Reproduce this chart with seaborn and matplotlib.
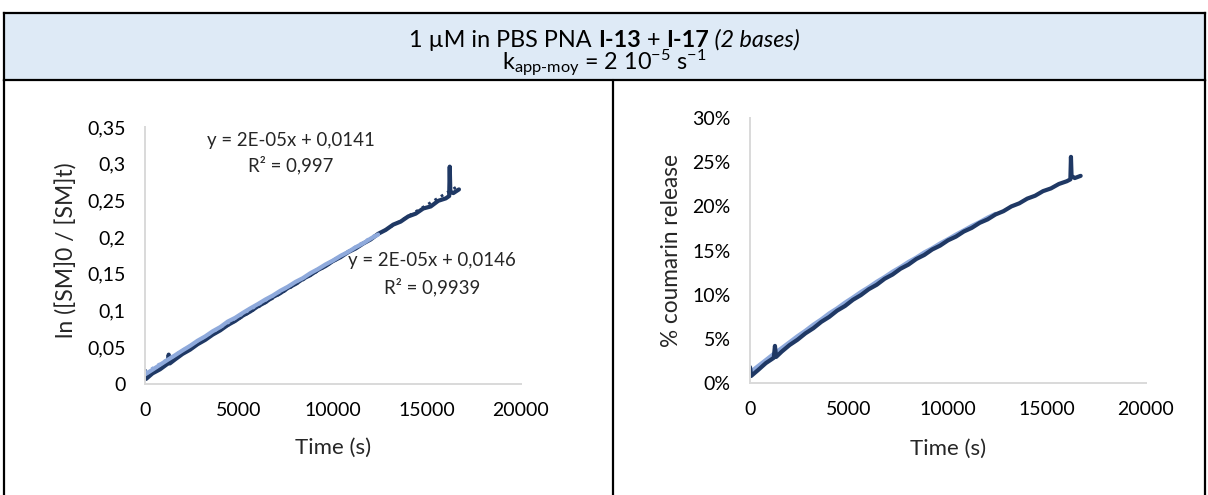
import matplotlib
matplotlib.use("Agg")
import matplotlib.pyplot as plt
import seaborn as sns
import numpy as np
from matplotlib.lines import Line2D
from matplotlib.ticker import FuncFormatter, PercentFormatter
from matplotlib.offsetbox import TextArea, HPacker, AnnotationBbox

# -----------------------------
# data
# -----------------------------
time_dark = [0, 60, 400, 800, 1200, 1260, 1320, 1600, 2000, 2400, 2800, 3200, 3600,
             4000, 4400, 4800, 5200, 5600, 6000, 6400, 6800, 7200, 7600, 8000, 8400,
             8800, 9200, 9600, 10000, 10400, 10800, 11200, 11600, 12000, 12400, 12800,
             13200, 13600, 14000, 14400, 14800, 15200, 15600, 16000, 16180, 16210,
             16240, 16400, 16700]
ln_dark = [0.018, 0.007, 0.0145, 0.0200, 0.0275, 0.0400, 0.0280, 0.0335, 0.0410, 0.0468,
           0.0542, 0.0600, 0.0672, 0.0730, 0.0803, 0.0860, 0.0931, 0.0988, 0.1058, 0.1113,
           0.1184, 0.1238, 0.1308, 0.1362, 0.1432, 0.1485, 0.1553, 0.1606, 0.1675, 0.1727,
           0.1795, 0.1845, 0.1912, 0.1968, 0.2045, 0.2098, 0.2170, 0.2212, 0.2282, 0.2320,
           0.2390, 0.2418, 0.2495, 0.2528, 0.2560, 0.2960, 0.2620, 0.2600, 0.2650]
pct_dark = [1.8, 0.8, 1.45, 2.25, 2.85, 4.2, 2.95, 3.55, 4.3, 4.90, 5.62, 6.20, 6.92,
            7.48, 8.19, 8.72, 9.42, 9.95, 10.62, 11.12, 11.80, 12.28, 12.93, 13.40, 14.04,
            14.49, 15.11, 15.55, 16.15, 16.57, 17.15, 17.56, 18.13, 18.52, 19.08, 19.45,
            19.99, 20.34, 20.87, 21.20, 21.72, 22.03, 22.53, 22.84, 23.05, 25.6,
            23.45, 23.20, 23.45]

time_light = [0, 400, 800, 1200, 1600, 2000, 2400, 2800, 3200, 3600, 4000, 4400, 4800,
              5200, 5600, 6000, 6400, 6800, 7200, 7600, 8000, 8400, 8800, 9200, 9600,
              10000, 10400, 10800, 11200, 11600, 12000, 12400]
ln_light = [0.013, 0.0195, 0.0262, 0.0328, 0.0392, 0.0458, 0.0520, 0.0590, 0.0648, 0.0718,
            0.0775, 0.0850, 0.0902, 0.0968, 0.1030, 0.1088, 0.1150, 0.1205, 0.1270, 0.1325,
            0.1390, 0.1442, 0.1510, 0.1565, 0.1628, 0.1682, 0.1745, 0.1798, 0.1862, 0.1915,
            0.1980, 0.2035]
pct_light = [1.2, 1.9, 2.6, 3.3, 3.95, 4.62, 5.3, 5.92, 6.6, 7.2, 7.88, 8.45, 9.1, 9.68,
             10.3, 10.85, 11.46, 12.0, 12.6, 13.12, 13.7, 14.2, 14.78, 15.25, 15.8, 16.28,
             16.8, 17.28, 17.78, 18.22, 18.72, 19.15]

fit_labels = [("y = 2E-05x + 0,0141", "R² = 0,997"),
              ("y = 2E-05x + 0,0146", "R² = 0,9939")]

DARK = "#1F3864"
LIGHT = "#8FAADC"
AXIS_GREY = "#D9D9D9"
HEADER_BG = "#DEEAF6"

sns.set_theme(style="white")
plt.rcParams['font.family'] = ['Lato', 'DejaVu Sans']
plt.rcParams['mathtext.fontset'] = 'custom'
plt.rcParams['mathtext.rm'] = 'Lato'
plt.rcParams['mathtext.it'] = 'Lato:italic'
plt.rcParams['mathtext.bf'] = 'Lato:bold'

W, H = 1208, 495
fig = plt.figure(figsize=(W / 100, H / 100), dpi=100, facecolor="white")


def fx(px):
    return px / W


def fy(py):
    return 1 - py / H


# -----------------------------
# header band (table cell)
# -----------------------------
hax = fig.add_axes([fx(4), fy(80), fx(1205) - fx(4), fy(13) - fy(80)])
hax.set_facecolor(HEADER_BG)
hax.set_xticks([])
hax.set_yticks([])
for s in hax.spines.values():
    s.set_color("black")
    s.set_linewidth(1.6)

tsize = 16.8
parts = [TextArea("1 µM in PBS PNA ", textprops=dict(size=tsize, color="black")),
         TextArea("I-13", textprops=dict(size=tsize, weight="bold", color="black")),
         TextArea(" + ", textprops=dict(size=tsize, color="black")),
         TextArea("I-17", textprops=dict(size=tsize, weight="bold", color="black")),
         TextArea(" (2 bases)", textprops=dict(size=tsize, style="italic", color="black"))]
box = HPacker(children=parts, align="baseline", pad=0, sep=0)
ab = AnnotationBbox(box, (0.5, 0.6), xycoords="axes fraction", frameon=False,
                    box_alignment=(0.5, 0.5))
hax.add_artist(ab)
hax.text(0.5, 0.24, r"k$_{\text{app-moy}}$ = 2 10$^{-5}$ s$^{-1}$",
         ha="center", va="center", size=tsize, color="black", transform=hax.transAxes)

# cell borders below the header
for x in (4, 613, 1205):
    fig.add_artist(Line2D([fx(x), fx(x)], [fy(80), 0], transform=fig.transFigure,
                          color="black", lw=1.6))

# -----------------------------
# left chart: ln([SM]0/[SM]t)
# -----------------------------
axL = fig.add_axes([fx(145), fy(384), fx(521) - fx(145), fy(127) - fy(384)])
sns.lineplot(x=time_dark, y=ln_dark, ax=axL, color=DARK, lw=3)
sns.regplot(x=time_dark, y=ln_dark, ax=axL, scatter=False, ci=None, color=DARK,
            line_kws=dict(ls=":", lw=2))
sns.lineplot(x=time_light, y=ln_light, ax=axL, color=LIGHT, lw=3)
sns.regplot(x=time_light, y=ln_light, ax=axL, scatter=False, ci=None, color=LIGHT,
            line_kws=dict(ls=":", lw=2))
axL.set_ylim(0, 0.35)
axL.set_yticks(np.arange(0, 0.351, 0.05))
axL.yaxis.set_major_formatter(FuncFormatter(lambda v, p: f"{v:g}".replace(".", ",")))
axL.set_ylabel("ln ([SM]0 / [SM]t)", va="center", size=16.5)
axL.yaxis.set_label_coords(-78 / 376, 0.52)

asize = 13.4
axL.text(0.388, 0.949, fit_labels[0][0], transform=axL.transAxes, ha="center", va="center", size=asize)
axL.text(0.388, 0.852, fit_labels[0][1], transform=axL.transAxes, ha="center", va="center", size=asize)
axL.text(0.763, 0.482, fit_labels[1][0], transform=axL.transAxes, ha="center", va="center", size=asize)
axL.text(0.763, 0.377, fit_labels[1][1], transform=axL.transAxes, ha="center", va="center", size=asize)

# -----------------------------
# right chart: % coumarin release
# -----------------------------
axR = fig.add_axes([fx(750), fy(383), fx(1146) - fx(750), fy(118) - fy(383)])
sns.lineplot(x=time_light, y=pct_light, ax=axR, color=LIGHT, lw=3)
sns.lineplot(x=time_dark, y=pct_dark, ax=axR, color=DARK, lw=3)
axR.set_ylim(0, 30)
axR.set_yticks(range(0, 31, 5))
axR.yaxis.set_major_formatter(PercentFormatter(xmax=100, decimals=0))
axR.set_ylabel("% coumarin release", va="center", size=16.3)
axR.yaxis.set_label_coords(-78 / 396, 0.5)

for ax in (axL, axR):
    ax.set_xlim(0, 20000)
    ax.set_xticks(range(0, 20001, 5000))
    ax.set_xlabel("Time (s)", va="center", size=16)
    ax.xaxis.set_label_coords(0.5, -64 / 257)
    ax.set_facecolor("none")
    for side in ("top", "right"):
        ax.spines[side].set_visible(False)
    for side in ("left", "bottom"):
        ax.spines[side].set_color(AXIS_GREY)
        ax.spines[side].set_linewidth(1.4)
    ax.tick_params(axis="both", length=0, labelsize=14, colors="black")
    ax.tick_params(axis="x", pad=13)
    ax.tick_params(axis="y", pad=14)

fig.savefig("out.png", dpi=100)
